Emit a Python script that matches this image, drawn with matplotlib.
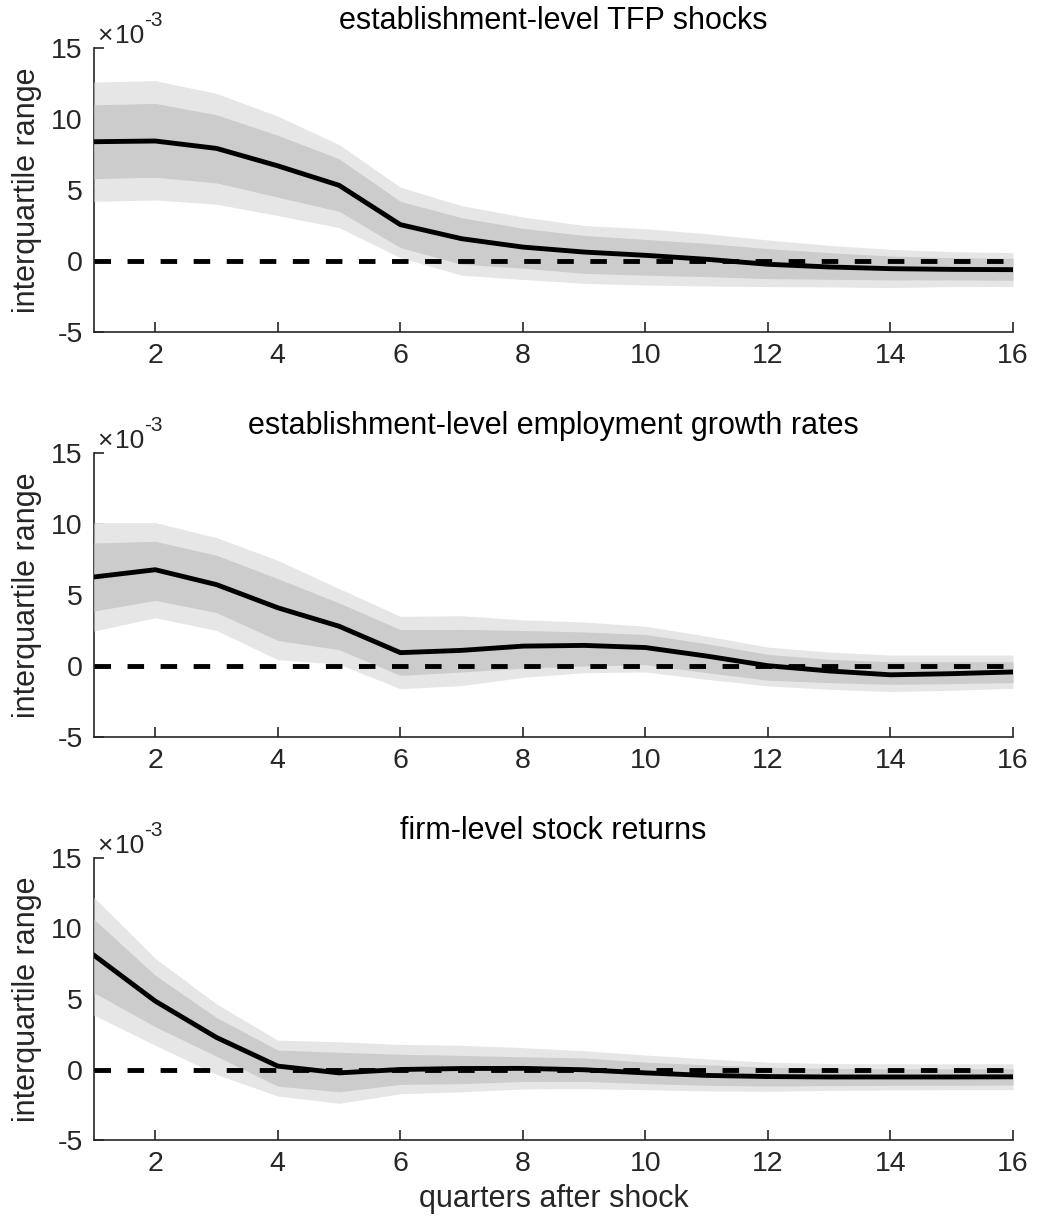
import numpy as np
import matplotlib
matplotlib.use("Agg")
import matplotlib.pyplot as plt
from matplotlib.ticker import FuncFormatter
from matplotlib.transforms import offset_copy

plt.rcParams['font.family'] = ['Liberation Sans', 'DejaVu Sans']
plt.rcParams['axes.unicode_minus'] = False

quarters = np.arange(1, 17)

titles = [
    "establishment-level TFP shocks",
    "establishment-level employment growth rates",
    "firm-level stock returns",
]

# Impulse responses of the interquartile range (units of 1e-3)
tfp_median = [8.4, 8.45, 7.93, 6.7, 5.33, 2.56, 1.57, 0.98, 0.63, 0.4, 0.12, -0.23, -0.42, -0.54, -0.59, -0.61]
tfp_outer_hi = [12.6, 12.7, 11.8, 10.2, 8.2, 5.2, 3.9, 3.1, 2.5, 2.27, 1.92, 1.48, 1.1, 0.82, 0.66, 0.59]
tfp_inner_hi = [11.0, 11.1, 10.3, 8.85, 7.2, 4.2, 3.05, 2.3, 1.8, 1.52, 1.24, 0.87, 0.59, 0.35, 0.23, 0.19]
tfp_inner_lo = [5.8, 5.9, 5.5, 4.5, 3.5, 0.94, -0.23, -0.5, -0.87, -1.0, -1.1, -1.24, -1.29, -1.33, -1.33, -1.36]
tfp_outer_lo = [4.2, 4.3, 4.0, 3.2, 2.35, 0.23, -1.0, -1.3, -1.57, -1.69, -1.76, -1.8, -1.83, -1.87, -1.8, -1.8]

emp_median = [6.27, 6.78, 5.73, 4.1, 2.8, 0.94, 1.1, 1.4, 1.45, 1.3, 0.7, 0.02, -0.35, -0.62, -0.54, -0.42]
emp_outer_hi = [10.1, 10.1, 9.04, 7.44, 5.45, 3.5, 3.54, 3.25, 3.1, 2.8, 2.1, 1.33, 0.98, 0.77, 0.77, 0.77]
emp_inner_hi = [8.66, 8.78, 7.8, 6.15, 4.44, 2.56, 2.58, 2.5, 2.4, 2.22, 1.57, 0.82, 0.47, 0.3, 0.3, 0.3]
emp_inner_lo = [3.87, 4.62, 3.76, 1.8, 1.15, -0.66, -0.42, -0.15, 0.0, 0.1, -0.47, -1.0, -1.17, -1.29, -1.24, -1.17]
emp_outer_lo = [2.46, 3.4, 2.5, 0.45, 0.12, -1.6, -1.38, -0.8, -0.47, -0.42, -0.94, -1.4, -1.64, -1.8, -1.71, -1.57]

ret_median = [8.1, 4.85, 2.27, 0.24, -0.24, 0.0, 0.07, 0.08, -0.02, -0.24, -0.42, -0.5, -0.53, -0.53, -0.53, -0.52]
ret_outer_hi = [12.2, 7.88, 4.65, 2.08, 1.97, 1.78, 1.72, 1.55, 1.33, 1.03, 0.75, 0.52, 0.42, 0.4, 0.4, 0.4]
ret_inner_hi = [10.65, 6.68, 3.68, 1.38, 1.22, 1.08, 1.0, 0.9, 0.82, 0.52, 0.33, 0.16, 0.07, 0.05, 0.05, 0.05]
ret_inner_lo = [5.45, 3.03, 0.94, -1.18, -1.58, -1.06, -1.0, -0.85, -0.84, -1.0, -1.12, -1.17, -1.14, -1.12, -1.12, -1.1]
ret_outer_lo = [3.85, 1.72, -0.35, -1.88, -2.4, -1.72, -1.58, -1.38, -1.36, -1.43, -1.52, -1.55, -1.48, -1.45, -1.43, -1.43]

panels = [
    (tfp_median, tfp_outer_lo, tfp_outer_hi, tfp_inner_lo, tfp_inner_hi),
    (emp_median, emp_outer_lo, emp_outer_hi, emp_inner_lo, emp_inner_hi),
    (ret_median, ret_outer_lo, ret_outer_hi, ret_inner_lo, ret_inner_hi),
]

y_ticks = [-5, 0, 5, 10, 15]
x_ticks = [2, 4, 6, 8, 10, 12, 14, 16]
scale = 1e-3
axis_color = '#262626'
W, H = 1039, 1226
fig = plt.figure(figsize=(W / 100, H / 100), dpi=100)
renderer = fig.canvas.get_renderer()

# axes boxes in pixels: (top, bottom)
boxes = [(48, 332), (453, 737), (858, 1140)]
left_px, right_px = 94, 1013

for i, ((top, bot), title, data) in enumerate(zip(boxes, titles, panels)):
    med, olo, ohi, ilo, ihi = [np.asarray(d) * scale for d in data]
    ax = fig.add_axes([left_px / W, 1 - bot / H, (right_px - left_px) / W, (bot - top) / H])
    ax.fill_between(quarters, olo, ohi, color='#e6e6e6', linewidth=0, zorder=3)
    ax.fill_between(quarters, ilo, ihi, color='#cccccc', linewidth=0, zorder=3.1)
    ax.plot(quarters, med, color='black', linewidth=3.5, zorder=4)
    ax.plot(quarters, np.zeros(len(quarters)), color='black', linewidth=3.5,
            linestyle=(0, (3.4, 3.4)), zorder=4.1)

    ax.set_xlim(1, 16)
    ax.set_ylim(-5 * scale, 15 * scale)
    ax.set_xticks(x_ticks)
    ax.set_yticks(np.array(y_ticks) * scale)
    ax.yaxis.set_major_formatter(FuncFormatter(lambda v, p: '%d' % round(v / scale)))

    for side in ('top', 'right'):
        ax.spines[side].set_visible(False)
    for side in ('left', 'bottom'):
        ax.spines[side].set_color(axis_color)
        ax.spines[side].set_linewidth(1.2)
    ax.tick_params(direction='in', length=7, width=1.2, colors=axis_color,
                   labelsize=20.5, pad=8)
    ax.set_ylabel('interquartile range', fontsize=22, color=axis_color, labelpad=7)
    ax.set_title(title, fontsize=22, color='black', pad=14)
    if i == 2:
        ax.set_xlabel('quarters after shock', fontsize=22, color=axis_color, labelpad=5)

    # exponent marker sitting just above the y axis
    ypos = 1 + 5 / (bot - top)
    times = ax.text(0.003, ypos, '\u00d7', transform=ax.transAxes, fontsize=19,
                    color=axis_color, ha='left', va='baseline')
    tw = times.get_window_extent(renderer).width
    ten = ax.text(0.003, ypos, '10',
                  transform=offset_copy(ax.transAxes, fig=fig, x=tw + 3, y=0, units='dots'),
                  fontsize=19, color=axis_color, ha='left', va='baseline')
    nw = ten.get_window_extent(renderer).width
    ax.text(0.003, ypos, '-3',
            transform=offset_copy(ax.transAxes, fig=fig, x=tw + 3 + nw, y=17, units='dots'),
            fontsize=15, color=axis_color, ha='left', va='baseline')

fig.savefig('out.png', dpi=100)
